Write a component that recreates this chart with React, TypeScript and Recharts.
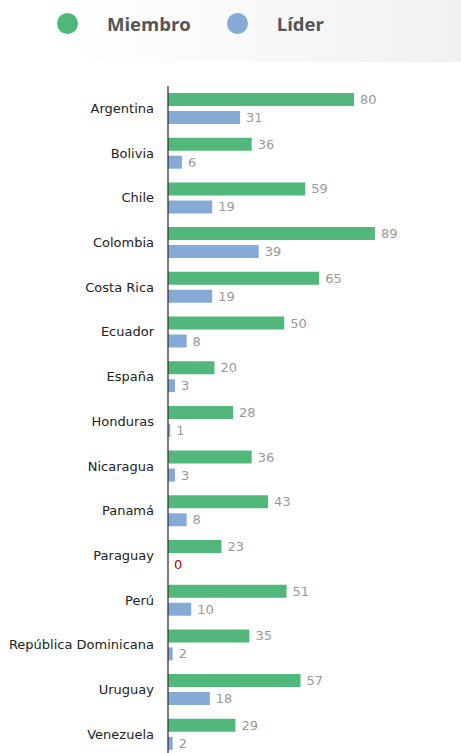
import { BarChart, Bar, XAxis, YAxis } from 'recharts';

const countries = [
  'Argentina', 'Bolivia', 'Chile', 'Colombia', 'Costa Rica', 'Ecuador', 'España', 'Honduras',
  'Nicaragua', 'Panamá', 'Paraguay', 'Perú', 'República Dominicana', 'Uruguay', 'Venezuela',
];
const miembro = [80, 36, 59, 89, 65, 50, 20, 28, 36, 43, 23, 51, 35, 57, 29];
const lider = [31, 6, 19, 39, 19, 8, 3, 1, 3, 8, 0, 10, 2, 18, 2];

const GREEN = '#52b77a';
const BLUE = '#84aad5';

const data = countries.map((name, i) => ({ name, miembro: miembro[i], lider: lider[i] }));

function ValueLabel(props: any) {
  const { x, y, width, height, value } = props;
  return (
    <text
      x={x + (width || 0) + 6}
      y={y + height / 2}
      dy={4.5}
      fontSize={13}
      fontFamily="DejaVu Sans"
      fill={value === 0 ? '#b00000' : '#999'}
    >
      {value}
    </text>
  );
}

function LegendDot({ color, label }: { color: string; label: string }) {
  return (
    <div style={{ display: 'flex', alignItems: 'center' }}>
      <div style={{ width: 21, height: 21, borderRadius: '50%', backgroundColor: color }} />
      <span
        style={{
          marginLeft: 29,
          fontFamily: 'Open Sans',
          fontWeight: 700,
          fontSize: 18.5,
          color: '#555',
        }}
      >
        {label}
      </span>
    </div>
  );
}

export default function App() {
  return (
    <div style={{ position: 'absolute', left: 0, top: 0, width: 461, height: 753, overflow: 'hidden', background: '#fff' }}>
      <div
        style={{
          position: 'absolute',
          left: 0,
          top: 0,
          width: 461,
          height: 62,
          background: 'linear-gradient(to right, #ffffff 15%, #eff1f2 100%)',
        }}
      />
      <div style={{ position: 'absolute', left: 57, top: 10, display: 'flex', gap: 36, height: 27, alignItems: 'center' }}>
        <LegendDot color={GREEN} label="Miembro" />
        <LegendDot color={BLUE} label="Líder" />
      </div>
      <div style={{ position: 'absolute', left: 0, top: 0 }}>
        <BarChart
          width={461}
          height={757}
          data={data}
          layout="vertical"
          margin={{ top: 86, right: 60.5, bottom: 0.5, left: 0 }}
          barSize={13}
          barGap={5}
        >
          <XAxis type="number" domain={[0, 100]} hide />
          <YAxis
            type="category"
            dataKey="name"
            width={168}
            tickLine={false}
            tickSize={0}
            tickMargin={14}
            axisLine={{ stroke: '#333', strokeWidth: 1.3 }}
            tick={{ fill: '#222', fontSize: 13, fontFamily: 'DejaVu Sans' }}
            interval={0}
          />
          <Bar dataKey="miembro" fill={GREEN} isAnimationActive={false} label={ValueLabel} />
          <Bar dataKey="lider" fill={BLUE} minPointSize={0.01} isAnimationActive={false} label={ValueLabel} />
        </BarChart>
      </div>
    </div>
  );
}
